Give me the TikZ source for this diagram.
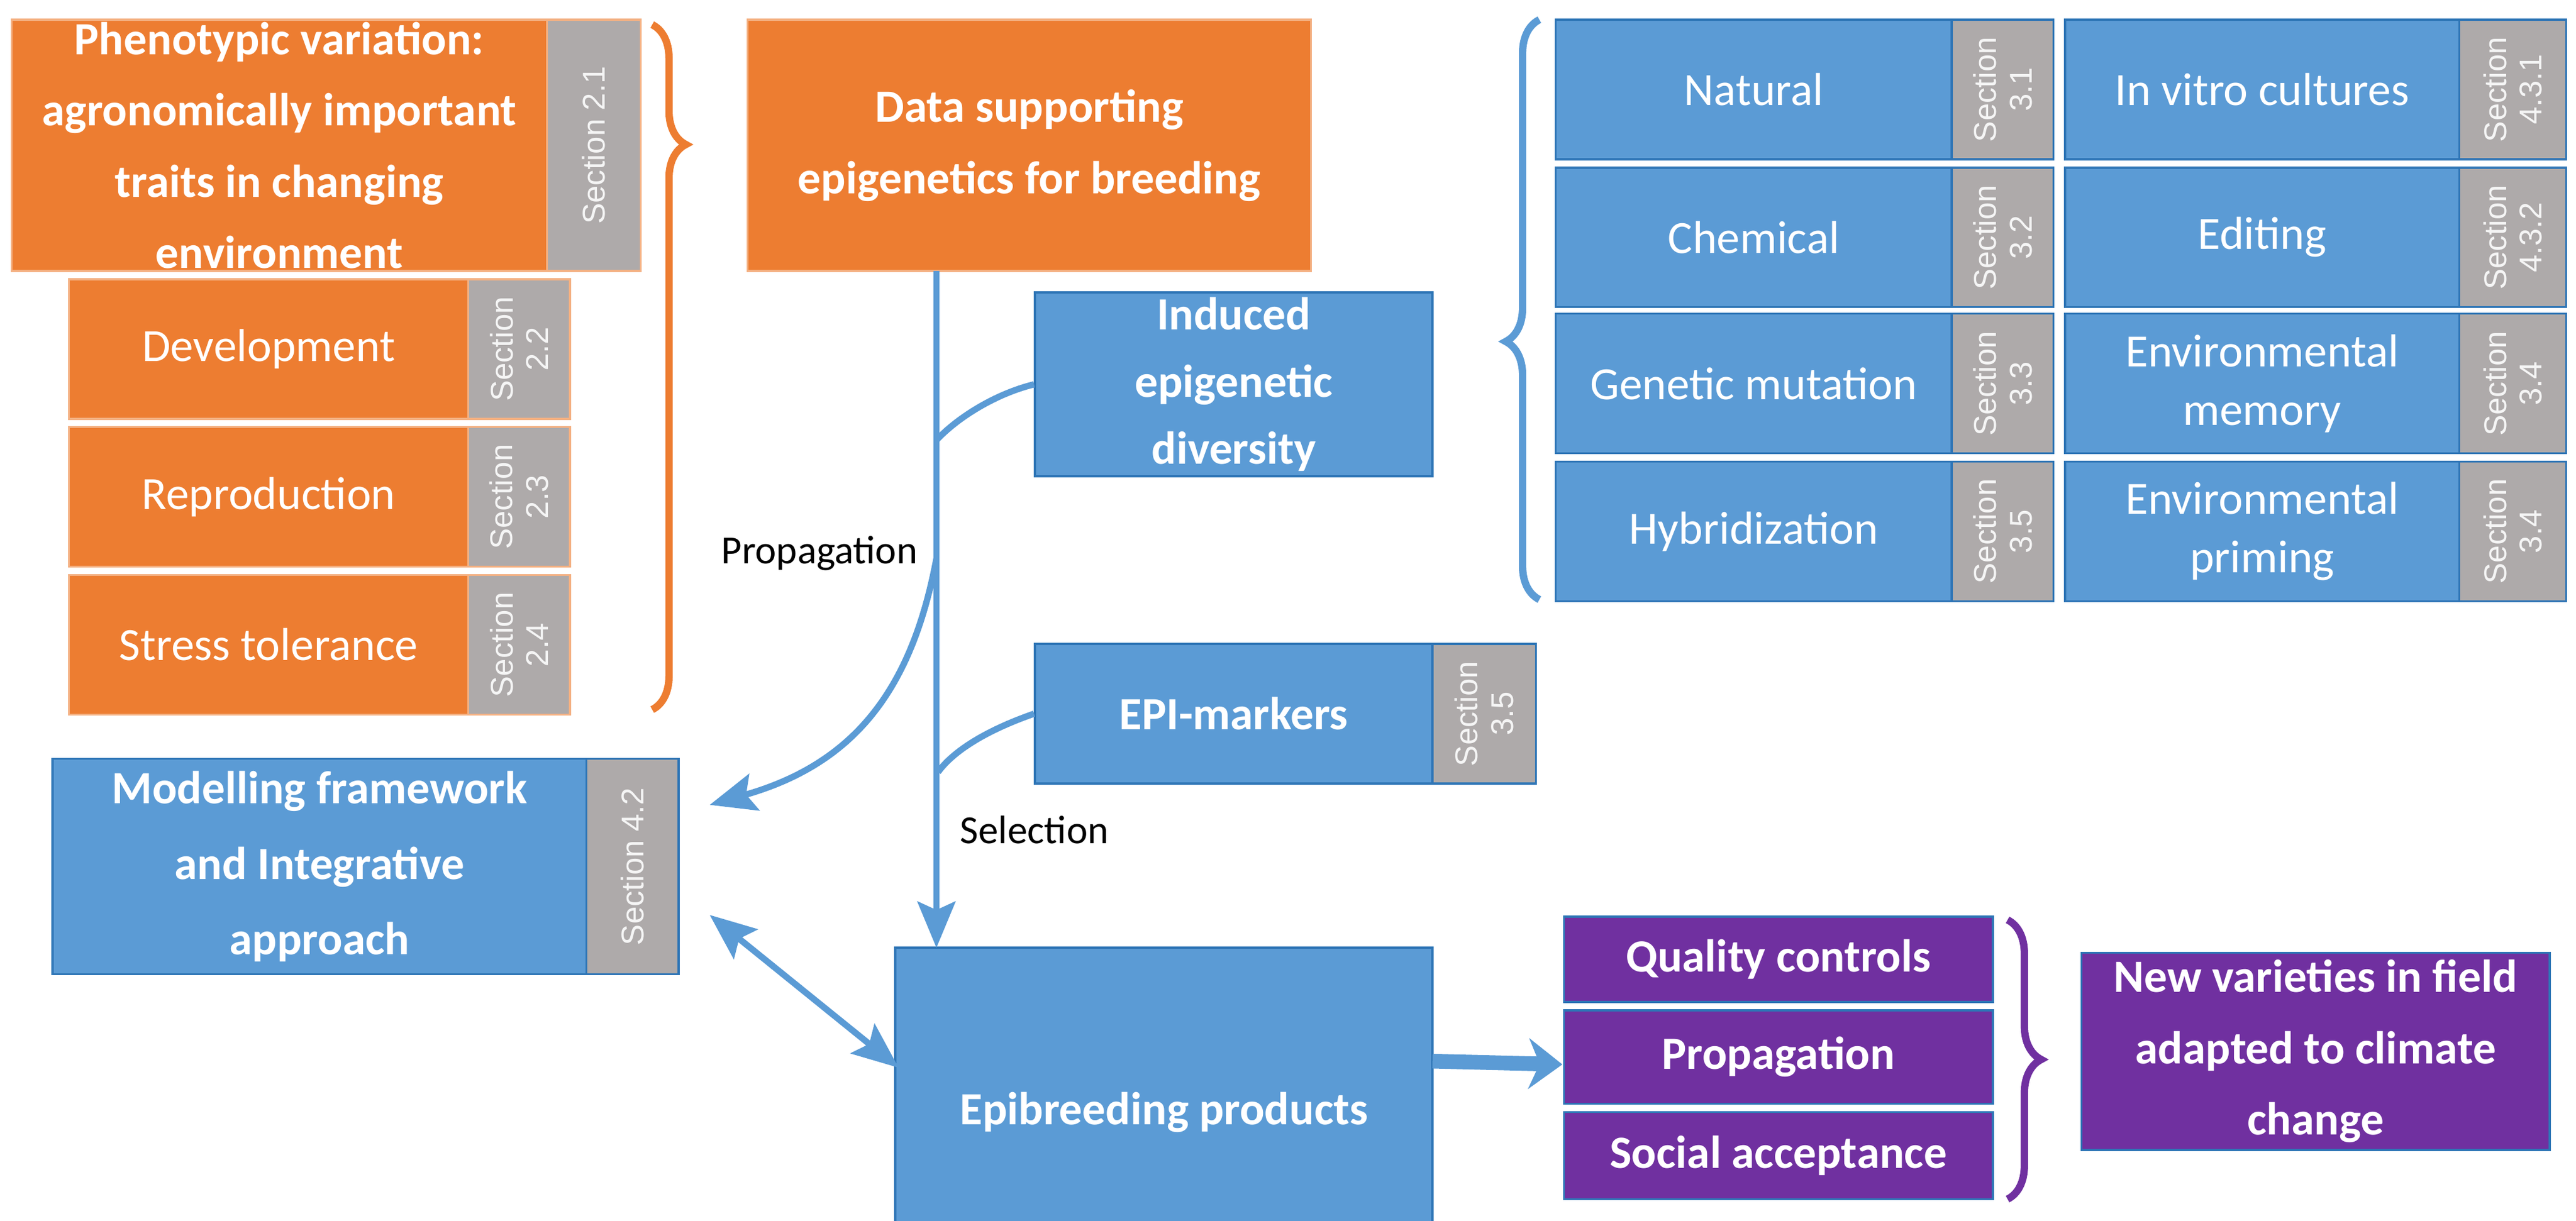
\documentclass[tikz,border=0pt]{standalone}
\usepackage{fontspec}
\setmainfont{Carlito}
\newfontfamily\secfont{Liberation Sans}
\usetikzlibrary{arrows.meta,decorations.pathreplacing}
\definecolor{org}{HTML}{ED7D31}
\definecolor{orgl}{HTML}{F4B183}
\definecolor{blu}{HTML}{5B9BD5}
\definecolor{blud}{HTML}{2E75B6}
\definecolor{pur}{HTML}{7030A0}
\definecolor{gry}{HTML}{AEAAAA}
\tikzset{
 bx/.style={draw, line width=1pt, text=white, align=center, inner sep=0pt, font=\fontsize{22}{28}\selectfont},
 ob/.style={bx, fill=org, draw=orgl},
 bb/.style={bx, fill=blu, draw=blud},
 pb/.style={bx, fill=pur, draw=blud, font=\fontsize{22}{28}\selectfont\bfseries},
 sec/.style={draw=orgl, line width=1pt, fill=gry, text=white!92!gray, align=center, inner sep=0pt, font=\secfont\fontsize{15}{17}\selectfont},
 secb/.style={sec, draw=blud},
 lnk/.style={draw=blu, line width=3pt},
 arr/.style={lnk, -{Stealth[length=22pt,width=18pt,inset=4pt]}},
 lab/.style={font=\fontsize{19}{23}\selectfont, text=black},
 brc/.style={line width=3.5pt, decorate, decoration={brace, amplitude=16pt}}
}
% \bx{name}{x1}{y1}{x2}{y2}{style}{text}
\newcommand\mybox[7]{\node[#6, minimum width={(#4-#2)*0.0275cm}, minimum height={(#5-#3)*0.0275cm}] (#1) at ({(#2+#4)/2},{(#3+#5)/2}) {#7};}
\newcommand\mysec[7]{\node[#6, rotate=90, minimum height={(#4-#2)*0.0275cm}, minimum width={(#5-#3)*0.0275cm}] (#1) at ({(#2+#4)/2},{(#3+#5)/2}) {#7};}
\begin{document}
\begin{tikzpicture}[x=0.0275cm,y=-0.0275cm]
\useasboundingbox (0,0) rectangle (1568,743);
% orange
\mybox{phen}{7}{12}{333}{165}{ob,font=\fontsize{22}{34}\selectfont\bfseries}{Phenotypic variation:\\agronomically important\\traits in changing\\environment}
\mysec{s21}{333}{12}{390}{165}{sec}{Section 2.1}
\mybox{dev}{42}{170}{285}{255}{ob}{Development}
\mysec{s22}{285}{170}{347}{255}{sec}{Section\\2.2}
\mybox{rep}{42}{260}{285}{345}{ob}{Reproduction}
\mysec{s23}{285}{260}{347}{345}{sec}{Section\\2.3}
\mybox{str}{42}{350}{285}{435}{ob}{Stress tolerance}
\mysec{s24}{285}{350}{347}{435}{sec}{Section\\2.4}
\mybox{data}{455}{12}{798}{165}{ob,font=\fontsize{22}{34}\selectfont\bfseries}{Data supporting\\epigenetics for breeding}
\draw[org,brc] (397,15) -- (397,432) [decoration={aspect=0.175}];
% blue middle
\mybox{ind}{630}{178}{872}{290}{bb,font=\fontsize{22}{32}\selectfont\bfseries}{Induced\\epigenetic\\diversity}
\mybox{epim}{630}{392}{872}{477}{bb,font=\fontsize{22}{28}\selectfont\bfseries}{EPI-markers}
\mysec{s35}{872}{392}{935}{477}{secb}{Section\\3.5}
\mybox{mod}{32}{462}{357}{593}{bb,font=\fontsize{22}{36}\selectfont\bfseries}{Modelling framework\\and Integrative\\approach}
\mysec{s42}{357}{462}{413}{593}{secb}{Section 4.2}
\mybox{epib}{545}{577}{872}{777}{bb,font=\fontsize{22}{28}\selectfont\bfseries}{Epibreeding products}
% grid
\mybox{nat}{947}{12}{1188}{97}{bb}{Natural}
\mysec{s31}{1188}{12}{1250}{97}{secb}{Section\\3.1}
\mybox{che}{947}{102}{1188}{187}{bb}{Chemical}
\mysec{s32}{1188}{102}{1250}{187}{secb}{Section\\3.2}
\mybox{gen}{947}{191}{1188}{276}{bb}{Genetic mutation}
\mysec{s33}{1188}{191}{1250}{276}{secb}{Section\\3.3}
\mybox{hyb}{947}{281}{1188}{366}{bb}{Hybridization}
\mysec{s35b}{1188}{281}{1250}{366}{secb}{Section\\3.5}
\mybox{inv}{1257}{12}{1497}{97}{bb}{In vitro cultures}
\mysec{s431}{1497}{12}{1562}{97}{secb}{Section\\4.3.1}
\mybox{edi}{1257}{102}{1497}{187}{bb}{Editing}
\mysec{s432}{1497}{102}{1562}{187}{secb}{Section\\4.3.2}
\mybox{mem}{1257}{191}{1497}{276}{bb}{Environmental\\memory}
\mysec{s34}{1497}{191}{1562}{276}{secb}{Section\\3.4}
\mybox{pri}{1257}{281}{1497}{366}{bb}{Environmental\\priming}
\mysec{s34b}{1497}{281}{1562}{366}{secb}{Section\\3.4}
\draw[blu,brc] (937,365) -- (937,12) [decoration={aspect=0.445}];
% purple
\mybox{qc}{952}{558}{1213}{610}{pb}{Quality controls}
\mybox{prop}{952}{615}{1213}{672}{pb}{Propagation}
\mybox{soc}{952}{677}{1213}{730}{pb}{Social acceptance}
\draw[pur,brc] (1222,560) -- (1222,730) [decoration={aspect=0.5}];
\mybox{newv}{1267}{580}{1552}{700}{pb,font=\fontsize{22}{34}\selectfont\bfseries}{New varieties in field\\adapted to climate\\change}
% connectors
\coordinate (c1) at (570,165);
\coordinate (c2) at (570,577);
\coordinate (c3) at (570,268);
\coordinate (c4) at (570,340);
\coordinate (c5) at (571,470);
\coordinate (m1) at (432,490);
\coordinate (m2) at (432,557);
\coordinate (e1) at (547,650);
\coordinate (e2) at (872,646);
\coordinate (q1) at (951,648);
\draw[arr] (c1) -- (c2);
\draw[lnk] (ind.west) .. controls (605,240) and (582,255) .. (c3);
\draw[lnk] (epim.west) .. controls (605,443) and (582,455) .. (c5);
\draw[arr] (c4) .. controls (555,420) and (520,465) .. (m1);
\draw[lnk, {Stealth[length=22pt,width=18pt,inset=4pt]}-{Stealth[length=22pt,width=18pt,inset=4pt]}] (m2) -- (e1);
\draw[draw=blu, line width=7pt, -{Stealth[length=16pt,width=24pt]}] (e2) -- (q1);
\node[lab, anchor=east] (lp) at (563,337) {Propagation};
\node[lab, anchor=west] (ls) at (580,505) {Selection};
\end{tikzpicture}
\end{document}
